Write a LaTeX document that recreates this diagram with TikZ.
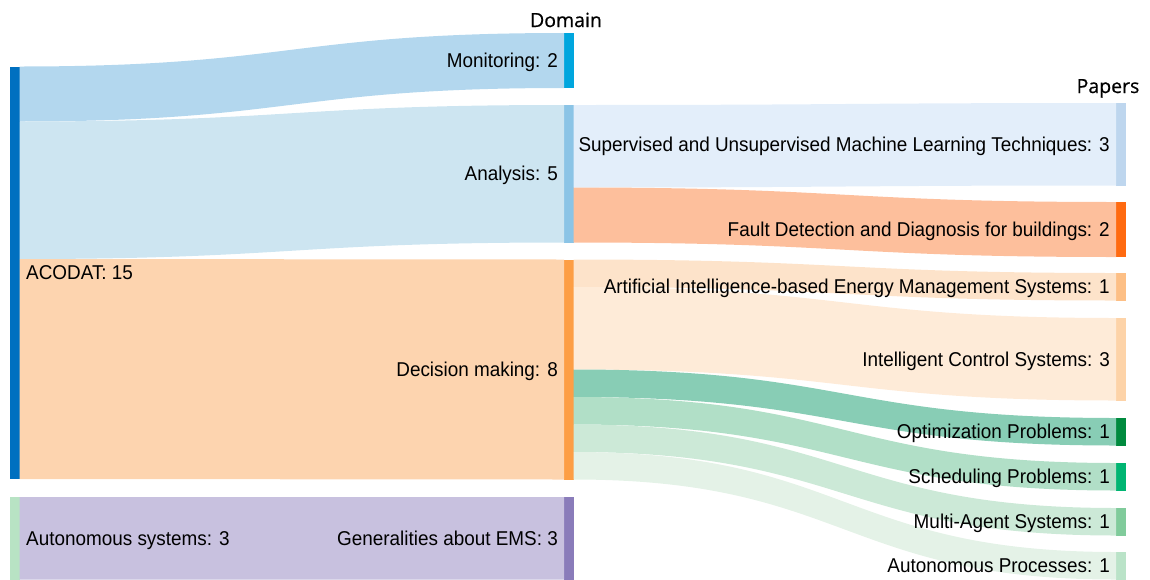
\documentclass[tikz,border=0pt]{standalone}
\usepackage{fontspec}
\setmainfont{Liberation Sans}
\newfontfamily\lblfont[FakeStretch=0.945]{Liberation Sans}
\newfontfamily\headfont[FakeBold=0.6]{Open Sans}
\usetikzlibrary{calc,positioning}

\definecolor{acodatbar}{HTML}{0070C0}
\definecolor{autsysbar}{HTML}{B8E3C4}
\definecolor{monitbar}{HTML}{00A6DE}
\definecolor{monitflow}{HTML}{B3D7EE}
\definecolor{analysisbar}{HTML}{8BC4E6}
\definecolor{analysisflow}{HTML}{CDE5F1}
\definecolor{decisionbar}{HTML}{FD9E45}
\definecolor{decisionflow}{HTML}{FDD4AF}
\definecolor{generalbar}{HTML}{8A7CBA}
\definecolor{generalflow}{HTML}{C8C1DF}
\definecolor{supervbar}{HTML}{BED6EE}
\definecolor{supervflow}{HTML}{E3EEFA}
\definecolor{faultbar}{HTML}{FF6A10}
\definecolor{faultflow}{HTML}{FDBF9C}
\definecolor{aiemsbar}{HTML}{FDBF85}
\definecolor{aiemsflow}{HTML}{FDE3CA}
\definecolor{intctrlbar}{HTML}{FDD3A8}
\definecolor{intctrlflow}{HTML}{FEEBD8}
\definecolor{optimbar}{HTML}{008A3E}
\definecolor{optimflow}{HTML}{88CDB5}
\definecolor{schedbar}{HTML}{00B572}
\definecolor{schedflow}{HTML}{B1DFC7}
\definecolor{multibar}{HTML}{80CB9B}
\definecolor{multiflow}{HTML}{CCE9D7}
\definecolor{autprocbar}{HTML}{BAE3C8}
\definecolor{autprocflow}{HTML}{E4F2E7}

% one paper = 27.5px of band
\newcommand{\unitpx}{27.5}
% \flow{from}{offset}{to}{offset}{papers}{colour}
\newcommand{\flow}[6]{%
  \fill[#6] ($(#1.north east)+(0,{#2*\unitpx})$)
    .. controls +(272,0) and +(-272,0) .. ($(#3.north west)+(0,{#4*\unitpx})$)
    -- ($(#3.north west)+(0,{(#4+#5)*\unitpx})$)
    .. controls +(-272,0) and +(272,0) .. ($(#1.north east)+(0,{(#2+#5)*\unitpx})$)
    -- cycle;}

\begin{document}
\begin{tikzpicture}[x=1pt,y=-1pt,
    lbl/.style={inner sep=0pt,font=\lblfont\fontsize{20}{24}\selectfont,text height=14.3pt,text depth=0pt},
    head/.style={inner sep=0pt,font=\headfont\fontsize{19.5}{23}\selectfont,anchor=base}]
  \useasboundingbox (0,0) rectangle (1150,579);

  \begin{scope}[every node/.style={rectangle,inner sep=0pt,outer sep=0pt,minimum width=9.5pt,anchor=north west}]
    \node[fill=acodatbar,minimum height=412.5pt] (acodat) at (10,66.5) {};
    \node[fill=autsysbar,minimum height=82.5pt] (autsys) at (10,497) {};
    \node[fill=monitbar,minimum height=55pt] (monit) at (564,33) {};
    \node[fill=analysisbar,minimum height=137.5pt] (analysis) at (564,105) {};
    \node[fill=decisionbar,minimum height=220pt] (decision) at (564,259.5) {};
    \node[fill=generalbar,minimum height=82.5pt] (general) at (564,497) {};
    \node[fill=supervbar,minimum height=82.5pt] (superv) at (1116,103) {};
    \node[fill=faultbar,minimum height=55pt] (fault) at (1116,202) {};
    \node[fill=aiemsbar,minimum height=27.5pt] (aiems) at (1116,273) {};
    \node[fill=intctrlbar,minimum height=82.5pt] (intctrl) at (1116,318) {};
    \node[fill=optimbar,minimum height=27.5pt] (optim) at (1116,418) {};
    \node[fill=schedbar,minimum height=27.5pt] (sched) at (1116,463) {};
    \node[fill=multibar,minimum height=27.5pt] (multi) at (1116,508) {};
    \node[fill=autprocbar,minimum height=27.5pt] (autproc) at (1116,552) {};
  \end{scope}

  \flow{acodat}{0}{monit}{0}{2}{monitflow}
  \flow{acodat}{2}{analysis}{0}{5}{analysisflow}
  \flow{acodat}{7}{decision}{0}{8}{decisionflow}
  \flow{autsys}{0}{general}{0}{3}{generalflow}
  \flow{analysis}{0}{superv}{0}{3}{supervflow}
  \flow{analysis}{3}{fault}{0}{2}{faultflow}
  \flow{decision}{0}{aiems}{0}{1}{aiemsflow}
  \flow{decision}{1}{intctrl}{0}{3}{intctrlflow}
  \flow{decision}{4}{optim}{0}{1}{optimflow}
  \flow{decision}{5}{sched}{0}{1}{schedflow}
  \flow{decision}{6}{multi}{0}{1}{multiflow}
  \flow{decision}{7}{autproc}{0}{1}{autprocflow}

  \node[lbl,right=6.5pt of acodat] (acodatl) {ACODAT: 15};
  \node[lbl,right=6.5pt of autsys] (autsysl) {Autonomous systems: 3};
  \node[lbl,left=6pt of monit] (monitl) {Monitoring: 2};
  \node[lbl,left=6pt of analysis] (analysisl) {Analysis: 5};
  \node[lbl,left=6pt of decision] (decisionl) {Decision making: 8};
  \node[lbl,left=6pt of general] (generall) {Generalities about EMS: 3};
  \node[lbl,left=6pt of superv] (supervl) {Supervised and Unsupervised Machine Learning Techniques: 3};
  \node[lbl,left=6pt of fault] (faultl) {Fault Detection and Diagnosis for buildings: 2};
  \node[lbl,left=6pt of aiems] (aiemsl) {Artificial Intelligence-based Energy Management Systems: 1};
  \node[lbl,left=6pt of intctrl] (intctrll) {Intelligent Control Systems: 3};
  \node[lbl,left=6pt of optim] (optiml) {Optimization Problems: 1};
  \node[lbl,left=6pt of sched] (schedl) {Scheduling Problems: 1};
  \node[lbl,left=6pt of multi] (multil) {Multi-Agent Systems: 1};
  \node[lbl,left=6pt of autproc] (autprocl) {Autonomous Processes: 1};

  \node[head] (domain) at (566,27) {Domain};
  \node[head] (papers) at (1108,93) {Papers};
\end{tikzpicture}
\end{document}
